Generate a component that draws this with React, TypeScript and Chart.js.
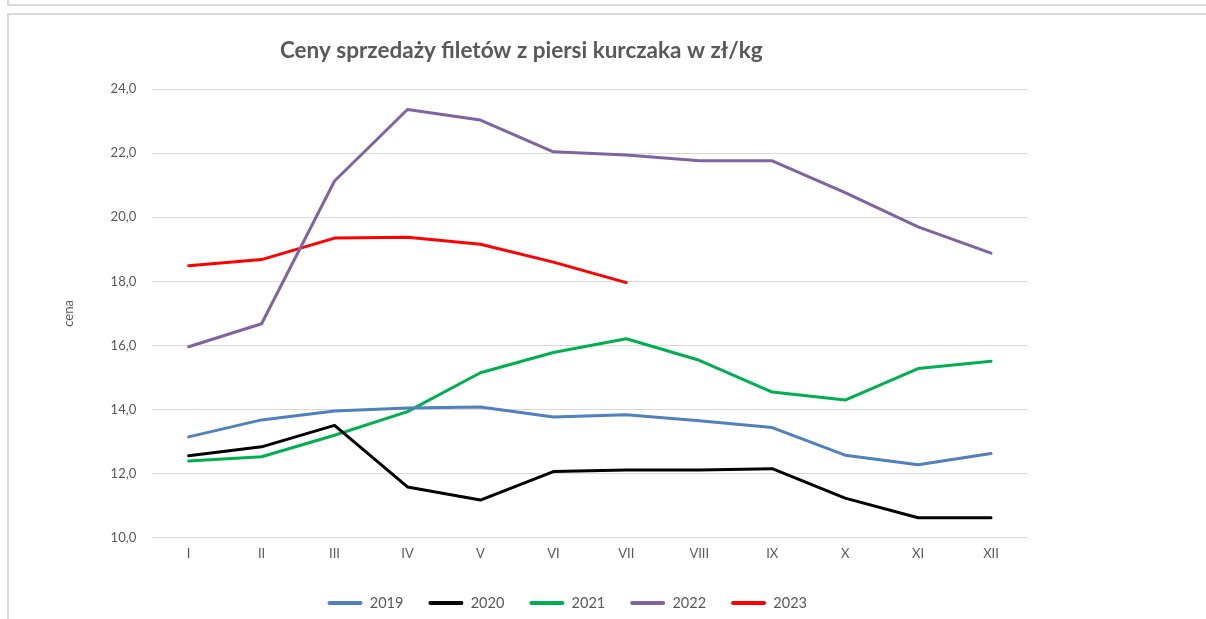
import React, { useEffect, useRef } from 'react';
import { Chart, registerables } from 'chart.js';

Chart.register(...registerables);

const months = ['I', 'II', 'III', 'IV', 'V', 'VI', 'VII', 'VIII', 'IX', 'X', 'XI', 'XII'];
const years = ['2019', '2020', '2021', '2022', '2023'];
const price2019 = [13.15, 13.68, 13.96, 14.05, 14.08, 13.77, 13.84, 13.65, 13.44, 12.58, 12.28, 12.63];
const price2020 = [12.56, 12.84, 13.51, 11.59, 11.18, 12.07, 12.12, 12.12, 12.16, 11.24, 10.63, 10.63];
const price2021 = [12.4, 12.53, 13.2, 13.94, 15.15, 15.78, 16.21, 15.54, 14.55, 14.3, 15.28, 15.51];
const price2022 = [15.96, 16.68, 21.13, 23.36, 23.03, 22.04, 21.94, 21.76, 21.76, 20.77, 19.7, 18.88];
const price2023 = [18.49, 18.68, 19.35, 19.38, 19.16, 18.6, 17.96, null, null, null, null, null];
const colors = ['#4f81bd', '#000000', '#00b050', '#8064a2', '#ff0000'];
const yTicks = [10, 12, 14, 16, 18, 20, 22, 24];

const TEXT = '#595959';
const FONT = 'Lato';
const LEG_PAD = 25;
const LEG_FONT = 14.5;

const legendShift = {
  id: 'legendShift',
  afterLayout(chart: any) {
    const lg = chart.legend;
    if (!lg) return;
    const h = lg.bottom - lg.top;
    lg.left += 46;
    lg.right += 46;
    lg.top = 588 - LEG_FONT / 2 - LEG_PAD;
    lg.bottom = lg.top + h;
  },
};

export default function App() {
  const ref = useRef<HTMLCanvasElement>(null);
  useEffect(() => {
    const series = [price2019, price2020, price2021, price2022, price2023];
    const chart = new Chart(ref.current as HTMLCanvasElement, {
      type: 'line',
      data: {
        labels: months,
        datasets: series.map((d, i) => ({
          label: years[i],
          data: d,
          borderColor: colors[i],
          backgroundColor: colors[i],
          borderWidth: 3,
          pointRadius: 0,
          tension: 0,
          borderJoinStyle: 'round' as const,
          borderCapStyle: 'round' as const,
          spanGaps: false,
        })),
      },
      options: {
        responsive: false,
        animation: false,
        layout: { padding: { left: 6, right: 5.5, top: 0, bottom: 0 } },
        plugins: {
          title: {
            display: true,
            text: 'Ceny sprzedaży filetów z piersi kurczaka w zł/kg',
            color: TEXT,
            font: { family: FONT, size: 22.5, weight: 'bold' },
            padding: { top: 22.5, bottom: 24.5 },
          },
          legend: {
            position: 'bottom',
            labels: {
              color: TEXT,
              font: { family: FONT, size: LEG_FONT },
              boxWidth: 35,
              boxHeight: 4,
              padding: LEG_PAD,
              useBorderRadius: true,
              borderRadius: 2,
              generateLabels: (c: any) =>
                (Chart.defaults.plugins.legend.labels.generateLabels as any)(c).map((l: any) => ({
                  ...l,
                  lineWidth: 0,
                  fillStyle: l.strokeStyle,
                })),
            },
          },
          tooltip: { enabled: false },
        },
        scales: {
          x: {
            offset: true,
            grid: { display: false, drawTicks: false },
            border: { display: false },
            ticks: { color: TEXT, font: { family: FONT, size: 13 }, padding: 8 },
          },
          y: {
            min: 10,
            max: 24,
            afterBuildTicks: (s: any) => {
              s.ticks = yTicks.map((v) => ({ value: v }));
            },
            grid: { color: '#d9d9d9', lineWidth: 1, drawTicks: false },
            border: { display: false },
            ticks: {
              color: TEXT,
              font: { family: FONT, size: 13 },
              padding: 16,
              callback: (v: any) => Number(v).toFixed(1).replace('.', ','),
            },
            title: {
              display: true,
              text: 'cena',
              color: TEXT,
              font: { family: FONT, size: 13 },
              padding: { top: 46, bottom: 18 },
            },
          },
        },
      },
      plugins: [legendShift],
    });
    return () => chart.destroy();
  }, []);

  return (
    <div
      style={{
        position: 'absolute',
        left: 0,
        top: 0,
        width: 1206,
        height: 619,
        overflow: 'hidden',
        background: '#ffffff',
      }}
    >
      <div
        style={{
          position: 'absolute',
          left: 7,
          top: -20,
          width: 1300,
          height: 26,
          border: '2px solid #d9d9d9',
          boxSizing: 'border-box',
        }}
      />
      <div
        style={{
          position: 'absolute',
          left: 7,
          top: 13,
          width: 1300,
          height: 700,
          border: '2px solid #d9d9d9',
          boxSizing: 'border-box',
        }}
      />
      <canvas
        ref={ref}
        width={1024}
        height={604}
        style={{ position: 'absolute', left: 9, top: 15, width: 1024, height: 604 }}
      />
    </div>
  );
}
